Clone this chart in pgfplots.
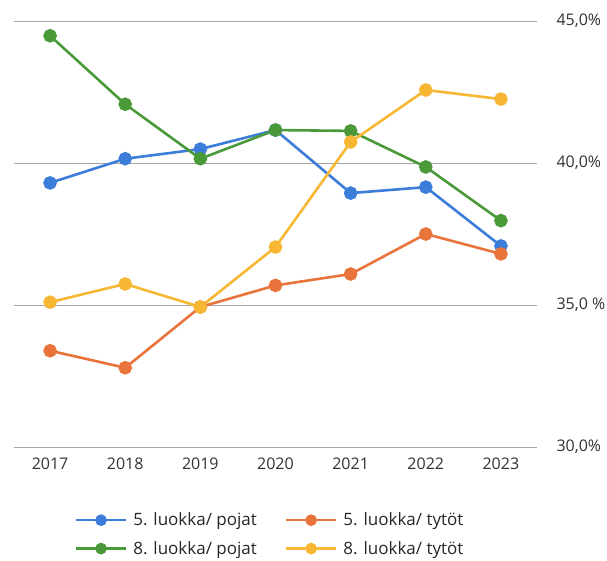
\documentclass[border=0pt]{standalone}
\usepackage{pgfplots}
\pgfplotsset{compat=1.18}
\usepackage{fontspec}
\setmainfont{Open Sans}
\definecolor{cblue}{HTML}{3C7DD9}
\definecolor{corange}{HTML}{E8743B}
\definecolor{cgreen}{HTML}{4A9A3A}
\definecolor{cyellow}{HTML}{F7B733}
\begin{document}
\begin{tikzpicture}[x=1pt,y=1pt]
\useasboundingbox (0,0) rectangle (607,560);
\begin{axis}[
  at={(14pt,113pt)}, anchor=south west,
  scale only axis, width=523pt, height=426pt,
  xmin=2016.52, xmax=2023.48, ymin=30, ymax=45,
  axis line style={draw=none},
  xtick={2017,...,2023},
  xticklabels={2017,2018,2019,2020,2021,2022,2023},
  ytick={30,35,40,45},
  yticklabels={{30,0\%},{35,0 \%},{40,0\%},{45,0\%}},
  ymajorgrids, grid style={gray!70, line width=0.8pt},
  major tick length=0pt,
  tick label style={font=\fontsize{16}{19}\selectfont, text=black!80},
  yticklabel pos=right,
  yticklabel style={anchor=west, xshift=16pt},
  xticklabel style={yshift=-7pt},
  /pgf/number format/assume math mode=true,
  every axis plot/.append style={line width=2.6pt, mark=*, mark size=5.5pt},
  clip=false,
  legend columns=2,
  legend cell align=left,
  legend style={draw=none, fill=none, at={(rel axis cs:0.11,-0.145)}, anchor=north west,
    font=\fontsize{17}{20}\selectfont, text=black!85,
    row sep=10pt,
    nodes={inner xsep=6pt},
    /tikz/every even column/.append style={column sep=22pt}},
  legend image code/.code={\draw[mark repeat=2,mark phase=2, mark size=4.5pt] plot coordinates {(0pt,0pt)(25pt,0pt)(50pt,0pt)};},
]
\addplot[cblue, mark options={fill=cblue}] coordinates {(2017,39.30)(2018,40.15)(2019,40.49)(2020,41.16)(2021,38.94)(2022,39.15)(2023,37.08)};
\addlegendentry{5. luokka/ pojat}
\addplot[corange, mark options={fill=corange}] coordinates {(2017,33.39)(2018,32.79)(2019,34.93)(2020,35.69)(2021,36.09)(2022,37.50)(2023,36.80)};
\addlegendentry{5. luokka/ tytöt}
\addplot[cgreen, mark options={fill=cgreen}] coordinates {(2017,44.48)(2018,42.07)(2019,40.15)(2020,41.16)(2021,41.13)(2022,39.86)(2023,37.97)};
\addlegendentry{8. luokka/ pojat}
\addplot[cyellow, mark options={fill=cyellow}] coordinates {(2017,35.10)(2018,35.74)(2019,34.93)(2020,37.04)(2021,40.74)(2022,42.57)(2023,42.25)};
\addlegendentry{8. luokka/ tytöt}
\end{axis}
\end{tikzpicture}
\end{document}
